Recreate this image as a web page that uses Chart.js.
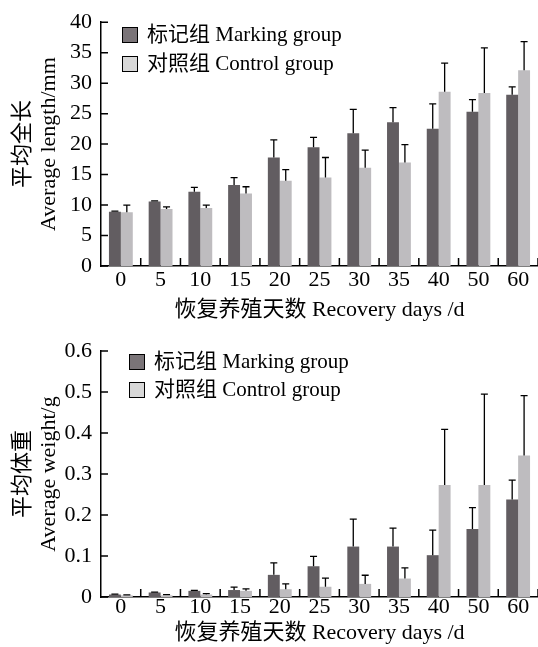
<!DOCTYPE html>
<html>
<head>
<meta charset="utf-8">
<script src="https://cdn.jsdelivr.net/npm/chart.js@4.4.1/dist/chart.umd.min.js"></script>
<style>
  html, body { margin: 0; padding: 0; background: #fff; }
  #wrap { position: relative; width: 538px; height: 647px; }
  canvas { position: absolute; left: 0; }
  #lengthChart { top: 0; }
  #weightChart { top: 323px; }
</style>
</head>
<body>
<div id="wrap">
  <canvas id="lengthChart" width="538" height="323"></canvas>
  <canvas id="weightChart" width="538" height="324"></canvas>
</div>
<script>
"use strict";

/* ---------- data ---------- */

const DAYS = ["0", "5", "10", "15", "20", "25", "30", "35", "40", "50", "60"];
const SERIES_NAMES = ["标记组 Marking group", "对照组 Control group"];

// average total length (mm), upper error = SD
const LENGTH_MARKING    = [8.9, 10.6, 12.2, 13.3, 17.8, 19.5, 21.8, 23.6, 22.5, 25.3, 28.1];
const LENGTH_MARKING_SD = [0.1, 0.1, 0.7, 1.2, 2.9, 1.6, 3.9, 2.4, 4.1, 2.0, 1.3];
const LENGTH_CONTROL    = [8.8, 9.35, 9.5, 11.9, 14.0, 14.5, 16.1, 17.0, 28.6, 28.4, 32.1];
const LENGTH_CONTROL_SD = [1.2, 0.35, 0.5, 1.1, 1.8, 3.3, 2.9, 2.9, 4.7, 7.4, 4.7];

// average weight (g)
const WEIGHT_MARKING    = [0.006, 0.011, 0.015, 0.017, 0.054, 0.075, 0.123, 0.123, 0.102, 0.166, 0.238];
const WEIGHT_MARKING_SD = [0.001, 0.001, 0.001, 0.007, 0.029, 0.024, 0.067, 0.045, 0.061, 0.052, 0.047];
const WEIGHT_CONTROL    = [0.004, 0.004, 0.006, 0.015, 0.019, 0.025, 0.032, 0.045, 0.273, 0.273, 0.345];
const WEIGHT_CONTROL_SD = [0.001, 0.002, 0.002, 0.005, 0.013, 0.021, 0.021, 0.026, 0.136, 0.222, 0.146];

/* ---------- look ---------- */

const FONT = '"Liberation Serif", "Noto Sans CJK SC", serif';
const FONT_SIZE = 22;
const BAR_COLORS = ["#625d61", "#bebcbf"];
const SWATCH_COLORS = ["#7a7478", "#d8d8d8"];

Chart.defaults.font.family = FONT;
Chart.defaults.font.size = FONT_SIZE;
Chart.defaults.color = "#000";

// upper error bars with a small cap
const errorBarPlugin = {
  id: "errorBars",
  afterDatasetsDraw(chart) {
    const ctx = chart.ctx;
    const yScale = chart.scales.y;
    ctx.save();
    ctx.strokeStyle = "#000";
    ctx.lineWidth = 1.3;
    chart.data.datasets.forEach((ds, di) => {
      chart.getDatasetMeta(di).data.forEach((bar, i) => {
        const top = yScale.getPixelForValue(ds.data[i] + ds.errors[i]);
        ctx.beginPath();
        ctx.moveTo(bar.x, bar.y);
        ctx.lineTo(bar.x, top);
        ctx.moveTo(bar.x - 3.5, top);
        ctx.lineTo(bar.x + 3.5, top);
        ctx.stroke();
      });
    });
    ctx.restore();
  }
};

// tick marks pointing into the plot
const innerTicksPlugin = {
  id: "innerTicks",
  afterDraw(chart) {
    const { ctx, chartArea, scales } = chart;
    ctx.save();
    ctx.strokeStyle = "#000";
    ctx.lineWidth = 1.5;
    ctx.beginPath();
    scales.y.ticks.forEach(t => {
      const y = scales.y.getPixelForValue(t.value);
      ctx.moveTo(chartArea.left, y);
      ctx.lineTo(chartArea.left + 7, y);
    });
    const n = chart.data.labels.length;
    const step = (scales.x.right - scales.x.left) / n;
    for (let i = 1; i <= n; i++) {
      const x = scales.x.left + i * step;
      ctx.moveTo(x, chartArea.bottom);
      ctx.lineTo(x, chartArea.bottom - 8);
    }
    ctx.stroke();
    ctx.restore();
  }
};

// legend boxes inside the plot, top-left
const boxLegendPlugin = {
  id: "boxLegend",
  afterDraw(chart, args, opts) {
    const { ctx, chartArea } = chart;
    ctx.save();
    ctx.font = "21px " + FONT;
    ctx.textBaseline = "middle";
    chart.data.datasets.forEach((ds, i) => {
      const bx = Math.round(chartArea.left + opts.dx);
      const by = Math.round(chartArea.top + opts.dy + i * opts.rowGap);
      ctx.fillStyle = SWATCH_COLORS[i];
      ctx.fillRect(bx, by, 15, 15);
      ctx.strokeStyle = "#000";
      ctx.lineWidth = 1;
      ctx.strokeRect(bx + 0.5, by + 0.5, 15, 15);
      ctx.fillStyle = "#000";
      ctx.fillText(ds.label, bx + 25, by + 8);
    });
    ctx.restore();
  }
};

/* ---------- chart builder ---------- */

function makeChart(id, cfg) {
  return new Chart(document.getElementById(id), {
    type: "bar",
    data: {
      labels: DAYS,
      datasets: cfg.series.map((s, i) => ({
        label: SERIES_NAMES[i],
        data: s.values,
        errors: s.errors,
        backgroundColor: BAR_COLORS[i],
        borderWidth: 0,
        categoryPercentage: 0.6,
        barPercentage: 1.0
      }))
    },
    options: {
      responsive: false,
      animation: false,
      layout: { padding: { top: cfg.padTop, left: 0, right: 0, bottom: 0 } },
      plugins: {
        legend: { display: false },
        tooltip: { enabled: false },
        boxLegend: cfg.legend
      },
      scales: {
        x: {
          grid: { display: false, drawTicks: false },
          border: { display: true, color: "#000", width: 1.5 },
          ticks: { padding: cfg.xTickPad },
          title: {
            display: true,
            text: "恢复养殖天数 Recovery days /d",
            font: { size: FONT_SIZE, lineHeight: 1.2 },
            padding: { top: 0, bottom: cfg.xTitlePad }
          },
          afterFit(scale) { scale.height = cfg.xHeight; }
        },
        y: {
          min: 0,
          max: cfg.yMax,
          grid: { display: false, drawTicks: false },
          border: { display: true, color: "#000", width: 1.5 },
          ticks: { stepSize: cfg.yStep, padding: 9 },
          title: {
            display: true,
            text: cfg.yTitle,
            font: { size: FONT_SIZE, lineHeight: 1.18 },
            padding: { top: 10, bottom: 0 }
          },
          afterFit(scale) { scale.width = 101; }
        }
      }
    },
    plugins: [errorBarPlugin, innerTicksPlugin, boxLegendPlugin]
  });
}

makeChart("lengthChart", {
  series: [
    { values: LENGTH_MARKING, errors: LENGTH_MARKING_SD },
    { values: LENGTH_CONTROL, errors: LENGTH_CONTROL_SD }
  ],
  yMax: 40,
  yStep: 5,
  yTitle: ["平均全长", "Average length/mm"],
  padTop: 18,
  xHeight: 57,
  xTickPad: 1,
  xTitlePad: 0,
  legend: { dx: 20.5, dy: 5, rowGap: 28.5 }
});

makeChart("weightChart", {
  series: [
    { values: WEIGHT_MARKING, errors: WEIGHT_MARKING_SD },
    { values: WEIGHT_CONTROL, errors: WEIGHT_CONTROL_SD }
  ],
  yMax: 0.6,
  yStep: 0.1,
  yTitle: ["平均体重", "Average weight/g"],
  padTop: 28,
  xHeight: 50,
  xTickPad: -3,
  xTitlePad: 1,
  legend: { dx: 28, dy: 2.5, rowGap: 28 }
});
</script>
</body>
</html>
